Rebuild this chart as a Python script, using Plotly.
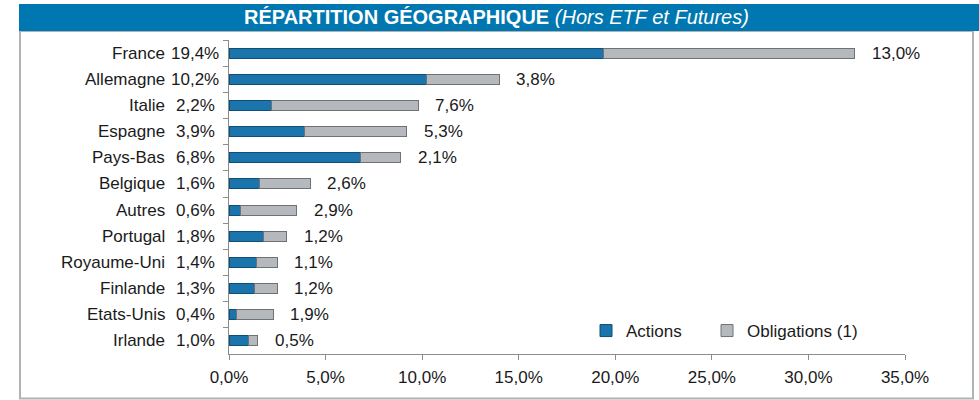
import plotly.graph_objects as go

categories = ["France", "Allemagne", "Italie", "Espagne", "Pays-Bas", "Belgique",
              "Autres", "Portugal", "Royaume-Uni", "Finlande", "Etats-Unis", "Irlande"]
actions = [19.4, 10.2, 2.2, 3.9, 6.8, 1.6, 0.6, 1.8, 1.4, 1.3, 0.4, 1.0]
obligations = [13.0, 3.8, 7.6, 5.3, 2.1, 2.6, 2.9, 1.2, 1.1, 1.2, 1.9, 0.5]
x_ticks = [0, 5, 10, 15, 20, 25, 30, 35]
x_tick_labels = ["0,0%", "5,0%", "10,0%", "15,0%", "20,0%", "25,0%", "30,0%", "35,0%"]

def fr(v):
    return f"{v:.1f}".replace(".", ",") + "%"

FONT = "Liberation Sans, Arial, sans-serif"
BLUE = "#1B74AC"
GRAY = "#B5B8BC"
TXT = "#1a1a1a"
FS = 17

fig = go.Figure()
fig.add_trace(go.Bar(
    y=categories, x=actions, orientation="h", name="Actions", legend="legend",
    marker=dict(color=BLUE, line=dict(color="#0F4E75", width=1)),
))
fig.add_trace(go.Bar(
    y=categories, x=obligations, orientation="h", name="Obligations (1)", legend="legend2",
    marker=dict(color=GRAY, line=dict(color="#6E7276", width=1)),
))

annotations = []
for c, a, o in zip(categories, actions, obligations):
    annotations.append(dict(x=0, y=c, xref="x", yref="y", text=c, showarrow=False,
                            xanchor="right", xshift=-62, font=dict(size=FS, color=TXT)))
    annotations.append(dict(x=0, y=c, xref="x", yref="y", text=fr(a), showarrow=False,
                            xanchor="center", xshift=-34, font=dict(size=FS, color=TXT)))
    annotations.append(dict(x=a + o, y=c, xref="x", yref="y", text=fr(o), showarrow=False,
                            xanchor="left", xshift=15, font=dict(size=FS, color=TXT)))

def px(v):
    return (v - 229) / 676

def py(v):
    return (354 - v) / 314

annotations.append(dict(
    x=px(496), y=py(17.5), xref="paper", yref="paper",
    text="<b>RÉPARTITION GÉOGRAPHIQUE</b> <i>(Hors ETF et Futures)</i>",
    showarrow=False, xanchor="center", yanchor="middle",
    font=dict(size=20, color="white", family=FONT),
))

shapes = [
    dict(type="rect", xref="paper", yref="paper", x0=px(20), x1=px(973), y0=py(398.5), y1=py(31),
         line=dict(color="#B0B3B6", width=2), fillcolor="rgba(0,0,0,0)", layer="below"),
    dict(type="rect", xref="paper", yref="paper", x0=px(19), x1=px(980), y0=py(31), y1=py(4),
         line=dict(width=0), fillcolor="#0077B0", layer="above"),
]

leg_common = dict(orientation="h", yanchor="middle", xanchor="left",
                  font=dict(size=FS), bgcolor="rgba(0,0,0,0)", itemwidth=30)

fig.update_layout(
    width=979, height=400,
    margin=dict(l=229, r=74, t=40, b=46),
    barmode="stack", bargap=0.62,
    plot_bgcolor="white", paper_bgcolor="white",
    font=dict(family=FONT, size=FS, color=TXT),
    showlegend=True,
    legend=dict(x=px(586), y=py(331), **leg_common),
    legend2=dict(x=px(707), y=py(331), **leg_common),
    annotations=annotations, shapes=shapes,
    xaxis=dict(range=[0, 35], tickvals=x_ticks, ticktext=x_tick_labels,
               showgrid=False, zeroline=False, showline=True, linecolor="#8C8C8C",
               ticks="outside", ticklen=5, tickcolor="#8C8C8C", tickfont=dict(size=FS),
               ticklabelstandoff=3),
    yaxis=dict(categoryorder="array", categoryarray=categories, range=[11.5, -0.5],
               showticklabels=False, showgrid=False, zeroline=False, showline=True,
               linecolor="#8C8C8C", ticks="outside", ticklen=5, tickcolor="#8C8C8C",
               tickson="boundaries"),
)

fig.write_html("out.html", config={"displayModeBar": False},
               post_script="document.body.style.margin='0';")
